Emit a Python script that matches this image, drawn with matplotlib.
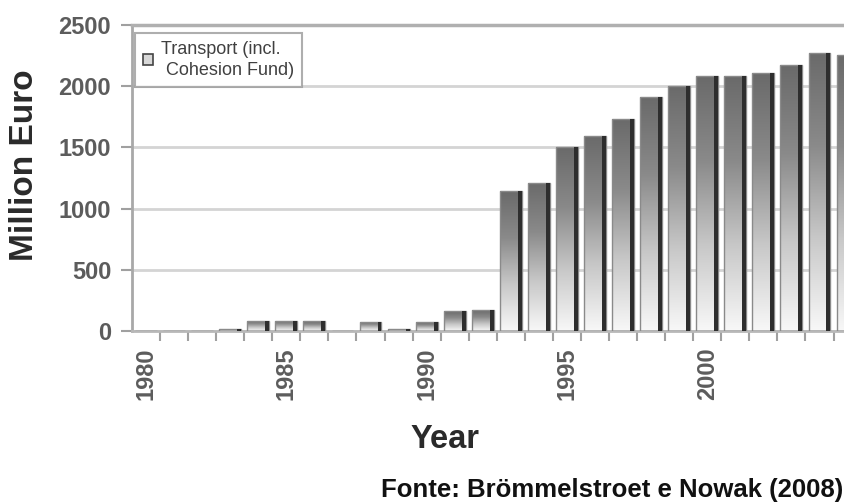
import numpy as np
import matplotlib
matplotlib.use('Agg')
from matplotlib import pyplot as plt
from matplotlib.patches import Patch
from matplotlib.colors import LinearSegmentedColormap

plt.rcParams['font.family'] = ['Liberation Sans', 'DejaVu Sans']

years = list(range(1980, 2006))
transport = [0, 0, 0, 20, 85, 85, 78, 0, 76, 15, 70, 160, 170,
             1140, 1210, 1500, 1595, 1735, 1915, 2005, 2080, 2080,
             2105, 2170, 2275, 2255]
tick_years = [1980, 1985, 1990, 1995, 2000]
y_ticks = [0, 500, 1000, 1500, 2000, 2500]

fig = plt.figure(figsize=(8.45, 5.04), dpi=100)
ax = fig.add_axes([132 / 845, 1 - 331 / 504, 1 - 132 / 845, (331 - 25) / 504])

idx = np.arange(len(years))
w = 0.78

# gradient fill: dark at the top, white at the bottom
cmap = LinearSegmentedColormap.from_list('bar', ['#f8f8f8', '#c8c8c8', '#8a8a8a', '#6a6a6a'])
grad = np.linspace(0, 1, 256).reshape(-1, 1)

bars = ax.bar(idx, transport, width=w, facecolor='none', edgecolor='#8a8a8a',
              linewidth=1.0, zorder=3)
for b, v in zip(bars, transport):
    if v <= 0:
        continue
    x0 = b.get_x()
    im = ax.imshow(grad, extent=[x0, x0 + w, 0, v], origin='lower', cmap=cmap,
                   aspect='auto', zorder=2, interpolation='bilinear')
    im.set_clip_path(b)
# dark shadow on the right side of each bar
ax.bar(idx + w / 2 - 0.07, transport, width=0.14, color='#2e2e2e', zorder=4)

ax.set_yticks(y_ticks)
ax.set_yticklabels([str(t) for t in y_ticks])
ax.set_xticks([years.index(y) for y in tick_years])
ax.set_xticklabels([str(y) for y in tick_years], rotation=90)
ax.set_xticks(idx + 0.5, minor=True)
# limits after the ticks, set_xticks would widen them
ax.set_xlim(-0.5, -0.5 + 713.5 / 28.08)
ax.set_ylim(0, 2500)
ax.set_aspect('auto')

ax.tick_params(axis='x', which='major', length=0, pad=12)
ax.tick_params(axis='x', which='minor', length=7, width=1.5, color='#a0a0a0')
ax.tick_params(axis='y', length=8, width=1.5, color='#a0a0a0', pad=7)
for lab in ax.get_xticklabels() + ax.get_yticklabels():
    lab.set_fontsize(17)
    lab.set_color('#5c5c5c')
    lab.set_fontweight('bold')

ax.yaxis.grid(True, color='#d4d4d4', linewidth=2)
ax.set_axisbelow(True)
ax.spines['right'].set_visible(False)
ax.spines['top'].set_color('#b0b0b0')
ax.spines['top'].set_linewidth(2.5)
ax.spines['left'].set_color('#a8a8a8')
ax.spines['left'].set_linewidth(2)
ax.spines['bottom'].set_color('#b8b8b8')
ax.spines['bottom'].set_linewidth(2)

leg = ax.legend(handles=[Patch(facecolor='#d8d8d8', edgecolor='#444444', linewidth=1.2)],
                labels=['Transport (incl.\n Cohesion Fund)'], loc='upper left',
                bbox_to_anchor=(0.004, 0.975), fontsize=13, frameon=True, fancybox=False,
                edgecolor='#9a9a9a', handlelength=0.55, handleheight=0.55, handletextpad=0.45,
                borderpad=0.45, borderaxespad=0.0, labelcolor='#404040')
leg.get_frame().set_linewidth(1.5)
for t in leg.get_texts():
    t.set_linespacing(1.3)

fig.text(25 / 845, 1 - 165 / 504, 'Million Euro', rotation=90, ha='center', va='center',
         fontsize=24, fontweight='bold', color='#2a2a2a')
fig.text(445 / 845, 1 - 440 / 504, 'Year', ha='center', va='center',
         fontsize=23.5, fontweight='bold', color='#2a2a2a')
fig.text(843 / 845, 1 - 497 / 504, 'Fonte: Brömmelstroet e Nowak (2008)', ha='right',
         va='baseline', fontsize=18.5, fontweight='bold', color='#111111')

fig.savefig('out.png', dpi=100)
